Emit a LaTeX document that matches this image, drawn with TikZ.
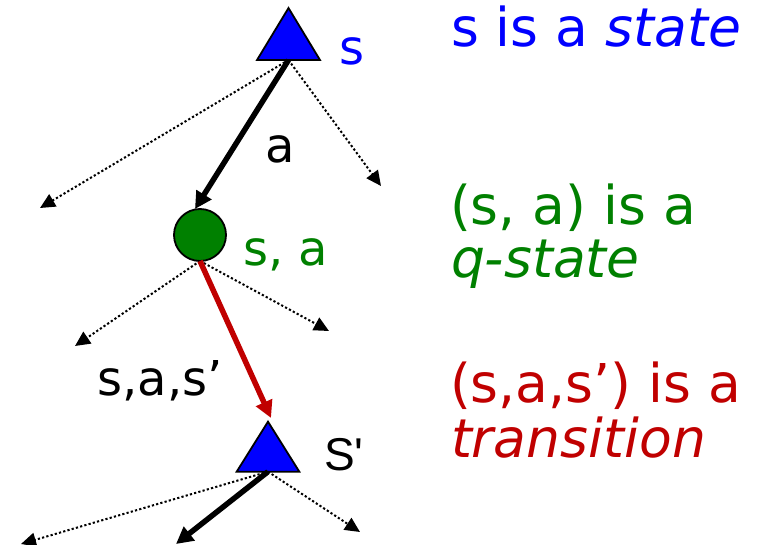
\documentclass[tikz,border=0pt]{standalone}
\usepackage{fontspec}
\setmainfont{DejaVu Sans}
\newfontfamily\arialf{Liberation Sans}
\usetikzlibrary{arrows.meta,shapes.geometric}
\definecolor{stblue}{RGB}{0,0,255}
\definecolor{qgreen}{RGB}{0,128,0}
\definecolor{trred}{RGB}{192,0,0}
\tikzset{
  statenode/.style={regular polygon, regular polygon sides=3, draw=black, line width=1.8pt, fill=stblue, inner sep=0pt, outer sep=0pt},
  qnode/.style={circle, draw=black, line width=1.8pt, fill=qgreen, minimum size=52pt, inner sep=0pt, outer sep=0pt},
  dotarrow/.style={line width=2pt, dash pattern=on 2.2pt off 2.2pt, -{Triangle[length=15pt,width=14pt]}},
  thickarrow/.style={line width=5.5pt, -{Triangle[length=17pt,width=17pt]}},
  redarrow/.style={thickarrow, draw=trred, color=trred},
  lbl/.style={anchor=base west, inner sep=0pt, outer sep=0pt},
  leftlbl/.style={lbl, font=\fontsize{48}{52}\selectfont},
  rightlbl/.style={lbl, font=\fontsize{53.5}{58}\selectfont}
}
\begin{document}
\begin{tikzpicture}[x=1pt,y=-1pt]
\useasboundingbox (0,0) rectangle (759,545);
% nodes
\node[statenode, minimum size=72.75pt, yscale=0.953] (s1) at (288.5,42.7) {};
\node[qnode] (q) at (200,235) {};
\node[statenode, minimum size=72.3pt, yscale=0.922] (s2) at (268,455) {};
% free ends
\coordinate (t1) at (40,208);
\coordinate (t2) at (381,186);
\coordinate (t3) at (195,209);
\coordinate (m1) at (75,346);
\coordinate (m2) at (329,331);
\coordinate (m3) at (271,418);
\coordinate (b1) at (21,544);
\coordinate (b2) at (176,544);
\coordinate (b3) at (360,532);
% connectors
\draw[dotarrow] (s1.south) -- (t1);
\draw[dotarrow] (s1.south) -- (t2);
\draw[thickarrow] (s1.south) -- (t3);
\draw[dotarrow] (q.south) -- (m1);
\draw[dotarrow] (q.south) -- (m2);
\draw[redarrow] (q.south) -- (m3);
\draw[dotarrow] (s2.south) -- (b1);
\draw[thickarrow] (s2.south) -- (b2);
\draw[dotarrow] (s2.south) -- (b3);
% labels
\node[leftlbl, text=stblue] (ls) at (339.5,65) {s};
\node[leftlbl] (la) at (265,163) {a};
\node[leftlbl, text=qgreen] (lsa) at (243.5,265) {s, a};
\node[leftlbl] (lsas) at (97.5,395) {s,a,s’};
\node[lbl, font=\arialf\fontsize{46}{50}\selectfont] (lsp) at (324,470) {S'};
% right texts
\node[rightlbl, text=stblue] (r1) at (451,47) {s is a \textit{state}};
\node[rightlbl, text=qgreen] (r2) at (450,225) {(s, a) is a};
\node[rightlbl, text=qgreen] (r3) at (451,277) {\textit{q-state}};
\node[rightlbl, text=trred] (r4) at (450,402) {(s,a,s’) is a};
\node[rightlbl, text=trred] (r5) at (451,457) {\textit{transition}};
\end{tikzpicture}
\end{document}
